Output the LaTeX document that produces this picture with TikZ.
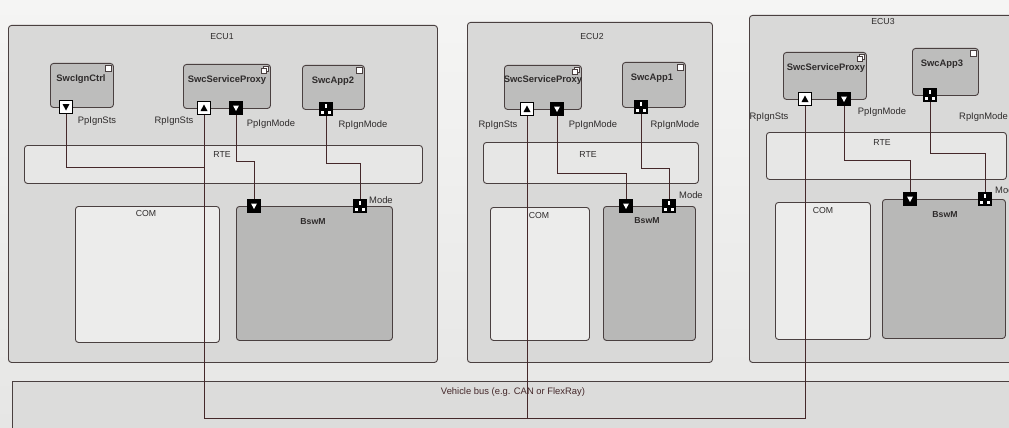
\documentclass[tikz,border=0pt]{standalone}
\usepackage{fontspec}
\setmainfont{Liberation Sans}
\usetikzlibrary{calc}

\definecolor{pagetop}{HTML}{F5F5F4}
\definecolor{pagebot}{HTML}{E6E6E5}
\definecolor{ecufill}{HTML}{D9D9D8}
\definecolor{rtefill}{HTML}{E7E7E6}
\definecolor{comfill}{HTML}{ECECEB}
\definecolor{swcfill}{HTML}{BDBDBC}
\definecolor{bswmfill}{HTML}{B8B8B7}
\definecolor{busfill}{HTML}{DCDCDB}
\definecolor{boxline}{HTML}{4A4040}
\definecolor{wirec}{HTML}{45282A}
\definecolor{textc}{HTML}{2E2B2B}

\pgfdeclarelayer{wirelayer}
\pgfdeclarelayer{portlayer}
\pgfsetlayers{main,wirelayer,portlayer}

\tikzset{
  box/.style={draw=boxline, line width=0.9pt, rounded corners=3pt, inner sep=0pt, anchor=north west},
  ecu/.style={box, fill=ecufill},
  rte/.style={box, fill=rtefill},
  com/.style={box, fill=comfill},
  bswm/.style={box, fill=bswmfill},
  swc/.style={box, fill=swcfill},
  bus/.style={box, fill=busfill, rounded corners=0pt},
  wire/.style={draw=wirec, line width=1pt},
  lbl/.style={font=\fontsize{9.4}{10}\selectfont, text=textc, inner sep=0pt},
  title/.style={font=\fontsize{8.7}{10}\selectfont, text=textc, inner sep=0pt},
  swcname/.style={font=\bfseries\fontsize{9.4}{11}\selectfont, text=textc, inner sep=0pt},
  bswmname/.style={font=\bfseries\fontsize{8.7}{10}\selectfont, text=textc, inner sep=0pt},
  appicon/.style={draw=boxline, line width=0.6pt, fill=white, minimum size=6pt, inner sep=0pt, anchor=north east},
  portbase/.style={draw=black, line width=0.8pt, minimum size=13pt, inner sep=0pt},
  pport/.style={portbase, fill=white, path picture={
    \fill[black] ([shift={(-3.5pt,3pt)}]path picture bounding box.center) -- ++(7pt,0pt) -- ++(-3.5pt,-6.5pt) -- cycle;}},
  rport/.style={portbase, fill=white, path picture={
    \fill[black] ([shift={(-3.5pt,-3pt)}]path picture bounding box.center) -- ++(7pt,0pt) -- ++(-3.5pt,6.5pt) -- cycle;}},
  pmport/.style={portbase, fill=black, path picture={
    \fill[white] ([shift={(-3pt,2.5pt)}]path picture bounding box.center) -- ++(6pt,0pt) -- ++(-3pt,-5.5pt) -- cycle;}},
  mport/.style={portbase, fill=black, path picture={
    \fill[white] ([shift={(-0.9pt,5pt)}]path picture bounding box.center) rectangle ([shift={(0.9pt,0.8pt)}]path picture bounding box.center);
    \fill[white] ([shift={(-5pt,-5pt)}]path picture bounding box.center) rectangle ([shift={(-2pt,-2pt)}]path picture bounding box.center);
    \fill[white] ([shift={(2pt,-5pt)}]path picture bounding box.center) rectangle ([shift={(5pt,-2pt)}]path picture bounding box.center);}},
}

\begin{document}
\begin{tikzpicture}[x=1pt,y=-1pt]
\useasboundingbox (0,0) rectangle (1009,428);
\clip (0,0) rectangle (1009,428);
\fill[top color=pagetop, bottom color=pagebot] (0,0) rectangle (1009,428);

% ---------- containers ----------
\node[ecu, minimum width=429pt, minimum height=337pt] (ecu1) at (8,25) {};
\node[ecu, minimum width=245pt, minimum height=340pt] (ecu2) at (467,22) {};
\node[ecu, minimum width=290pt, minimum height=347pt] (ecu3) at (749,15) {};
\node[bus, minimum width=1030pt, minimum height=70pt] (bus) at (12,381) {};

\node[title] (ecu1t) at (222,37) {ECU1};
\node[title] (ecu2t) at (592,37) {ECU2};
\node[title] (ecu3t) at (883,22) {ECU3};
\node[lbl, text=wirec] (bust) at (513,392) {Vehicle bus (e.g. CAN or FlexRay)};

% ---------- RTE, COM, BswM ----------
\node[rte, minimum width=398pt, minimum height=38pt] (rte1) at (24,145) {};
\node[rte, minimum width=215pt, minimum height=41pt] (rte2) at (483,142) {};
\node[rte, minimum width=240pt, minimum height=47pt] (rte3) at (766,132) {};
\node[title] (rte1t) at (222,155) {RTE};
\node[title] (rte2t) at (588,155) {RTE};
\node[title] (rte3t) at (882,143) {RTE};

\node[com, minimum width=144pt, minimum height=136pt] (com1) at (75,206) {};
\node[com, minimum width=99pt, minimum height=133pt] (com2) at (490,207) {};
\node[com, minimum width=95pt, minimum height=137pt] (com3) at (775,202) {};
\node[title] (com1t) at (146,214) {COM};
\node[title] (com2t) at (539,216) {COM};
\node[title] (com3t) at (823,211) {COM};

\node[bswm, minimum width=156pt, minimum height=134pt] (bsw1) at (236,206) {};
\node[bswm, minimum width=92pt, minimum height=134pt] (bsw2) at (603,206) {};
\node[bswm, minimum width=123pt, minimum height=139pt] (bsw3) at (882,199) {};
\node[bswmname] (bsw1t) at (313,222) {BswM};
\node[bswmname] (bsw2t) at (647,221) {BswM};
\node[bswmname] (bsw3t) at (945,215) {BswM};

% ---------- software components ----------
\node[swc, minimum width=63pt, minimum height=44pt] (ign) at (50,63) {};
\node[swc, minimum width=87pt, minimum height=44pt] (px1) at (183,64) {};
\node[swc, minimum width=62pt, minimum height=44pt] (app2) at (302,65) {};
\node[swc, minimum width=77pt, minimum height=44pt] (px2) at (504,65) {};
\node[swc, minimum width=63pt, minimum height=45pt] (app1) at (622,62) {};
\node[swc, minimum width=83pt, minimum height=47pt] (px3) at (783,52) {};
\node[swc, minimum width=66pt, minimum height=47pt] (app3) at (912,48) {};

\node[swcname] (ignt) at (81,79) {SwcIgnCtrl};
\node[swcname] (px1t) at (227,80) {SwcServiceProxy};
\node[swcname] (app2t) at (333,81) {SwcApp2};
\node[swcname] (px2t) at (543,80) {SwcServiceProxy};
\node[swcname] (app1t) at (652,78) {SwcApp1};
\node[swcname] (px3t) at (826,68) {SwcServiceProxy};
\node[swcname] (app3t) at (942,64) {SwcApp3};

% corner icons
\foreach \c in {ign,app2,app1,app3}{
  \node[appicon] (\c icon) at ([shift={(-2pt,-2pt)}]\c.north east) {};
}
\foreach \c in {px1,px2,px3}{
  \node[appicon, minimum size=5.5pt] (\c iconA) at ([shift={(-2pt,-2pt)}]\c.north east) {};
  \node[appicon, minimum size=5pt] (\c iconB) at ([shift={(-4.5pt,-4.5pt)}]\c.north east) {};
}

% ---------- ports ----------
\begin{pgfonlayer}{portlayer}
\node[pport]  (ignP)  at (66,107) {};
\node[rport]  (px1R)  at (204,108) {};
\node[pmport] (px1P)  at (236,108) {};
\node[mport]  (app2R) at (326,109) {};
\node[pmport] (bsw1P) at (254,206) {};
\node[mport]  (bsw1M) at (360,206) {};

\node[rport]  (px2R)  at (527,109) {};
\node[pmport] (px2P)  at (557,109) {};
\node[mport]  (app1R) at (641,107) {};
\node[pmport] (bsw2P) at (626,206) {};
\node[mport]  (bsw2M) at (669,206) {};

\node[rport]  (px3R)  at (805,99) {};
\node[pmport] (px3P)  at (844,99) {};
\node[mport]  (app3R) at (930,95) {};
\node[pmport] (bsw3P) at (910,199) {};
\node[mport]  (bsw3M) at (985,199) {};
\end{pgfonlayer}

% port labels
\node[lbl] (l1a) at (97,121) {PpIgnSts};
\node[lbl] (l1b) at (174,121) {RpIgnSts};
\node[lbl] (l1c) at (271,124) {PpIgnMode};
\node[lbl] (l1d) at (363,125) {RpIgnMode};
\node[lbl, anchor=west] (l1e) at (369,200) {Mode};

\node[lbl] (l2b) at (498,125) {RpIgnSts};
\node[lbl] (l2c) at (593,125) {PpIgnMode};
\node[lbl] (l2d) at (675,125) {RpIgnMode};
\node[lbl, anchor=west] (l2e) at (679,195) {Mode};

\node[lbl] (l3b) at (769,117) {RpIgnSts};
\node[lbl] (l3c) at (882,112) {PpIgnMode};
\node[lbl, anchor=east] (l3d) at (1008,117) {RpIgnMode};
\node[lbl, anchor=west] (l3e) at (995,190) {Mode};

% ---------- connectors ----------
\coordinate (j1) at (204,167);
\coordinate (busy) at (0,418);

\begin{pgfonlayer}{wirelayer}
\draw[wire] (ignP.south) |- (j1);
\draw[wire] (px1P.south) -- ++(0,47) -| (bsw1P.north);
\draw[wire] (app2R.south) -- ++(0,47.5) -| (bsw1M.north);

\draw[wire] (px2P.south) -- ++(0,57.5) -| (bsw2P.north);
\draw[wire] (app1R.south) -- ++(0,54.5) -| (bsw2M.north);

\draw[wire] (px3P.south) -- ++(0,54.5) -| (bsw3P.north);
\draw[wire] (app3R.south) -- ++(0,51.5) -| (bsw3M.north);

% vehicle bus wiring of the service proxies
\draw[wire] (px1R.south) -- (px1R.south |- busy) -- (px3R.south |- busy) -- (px3R.south);
\draw[wire] (px2R.south) -- (px2R.south |- busy);
\end{pgfonlayer}
\end{tikzpicture}
\end{document}
